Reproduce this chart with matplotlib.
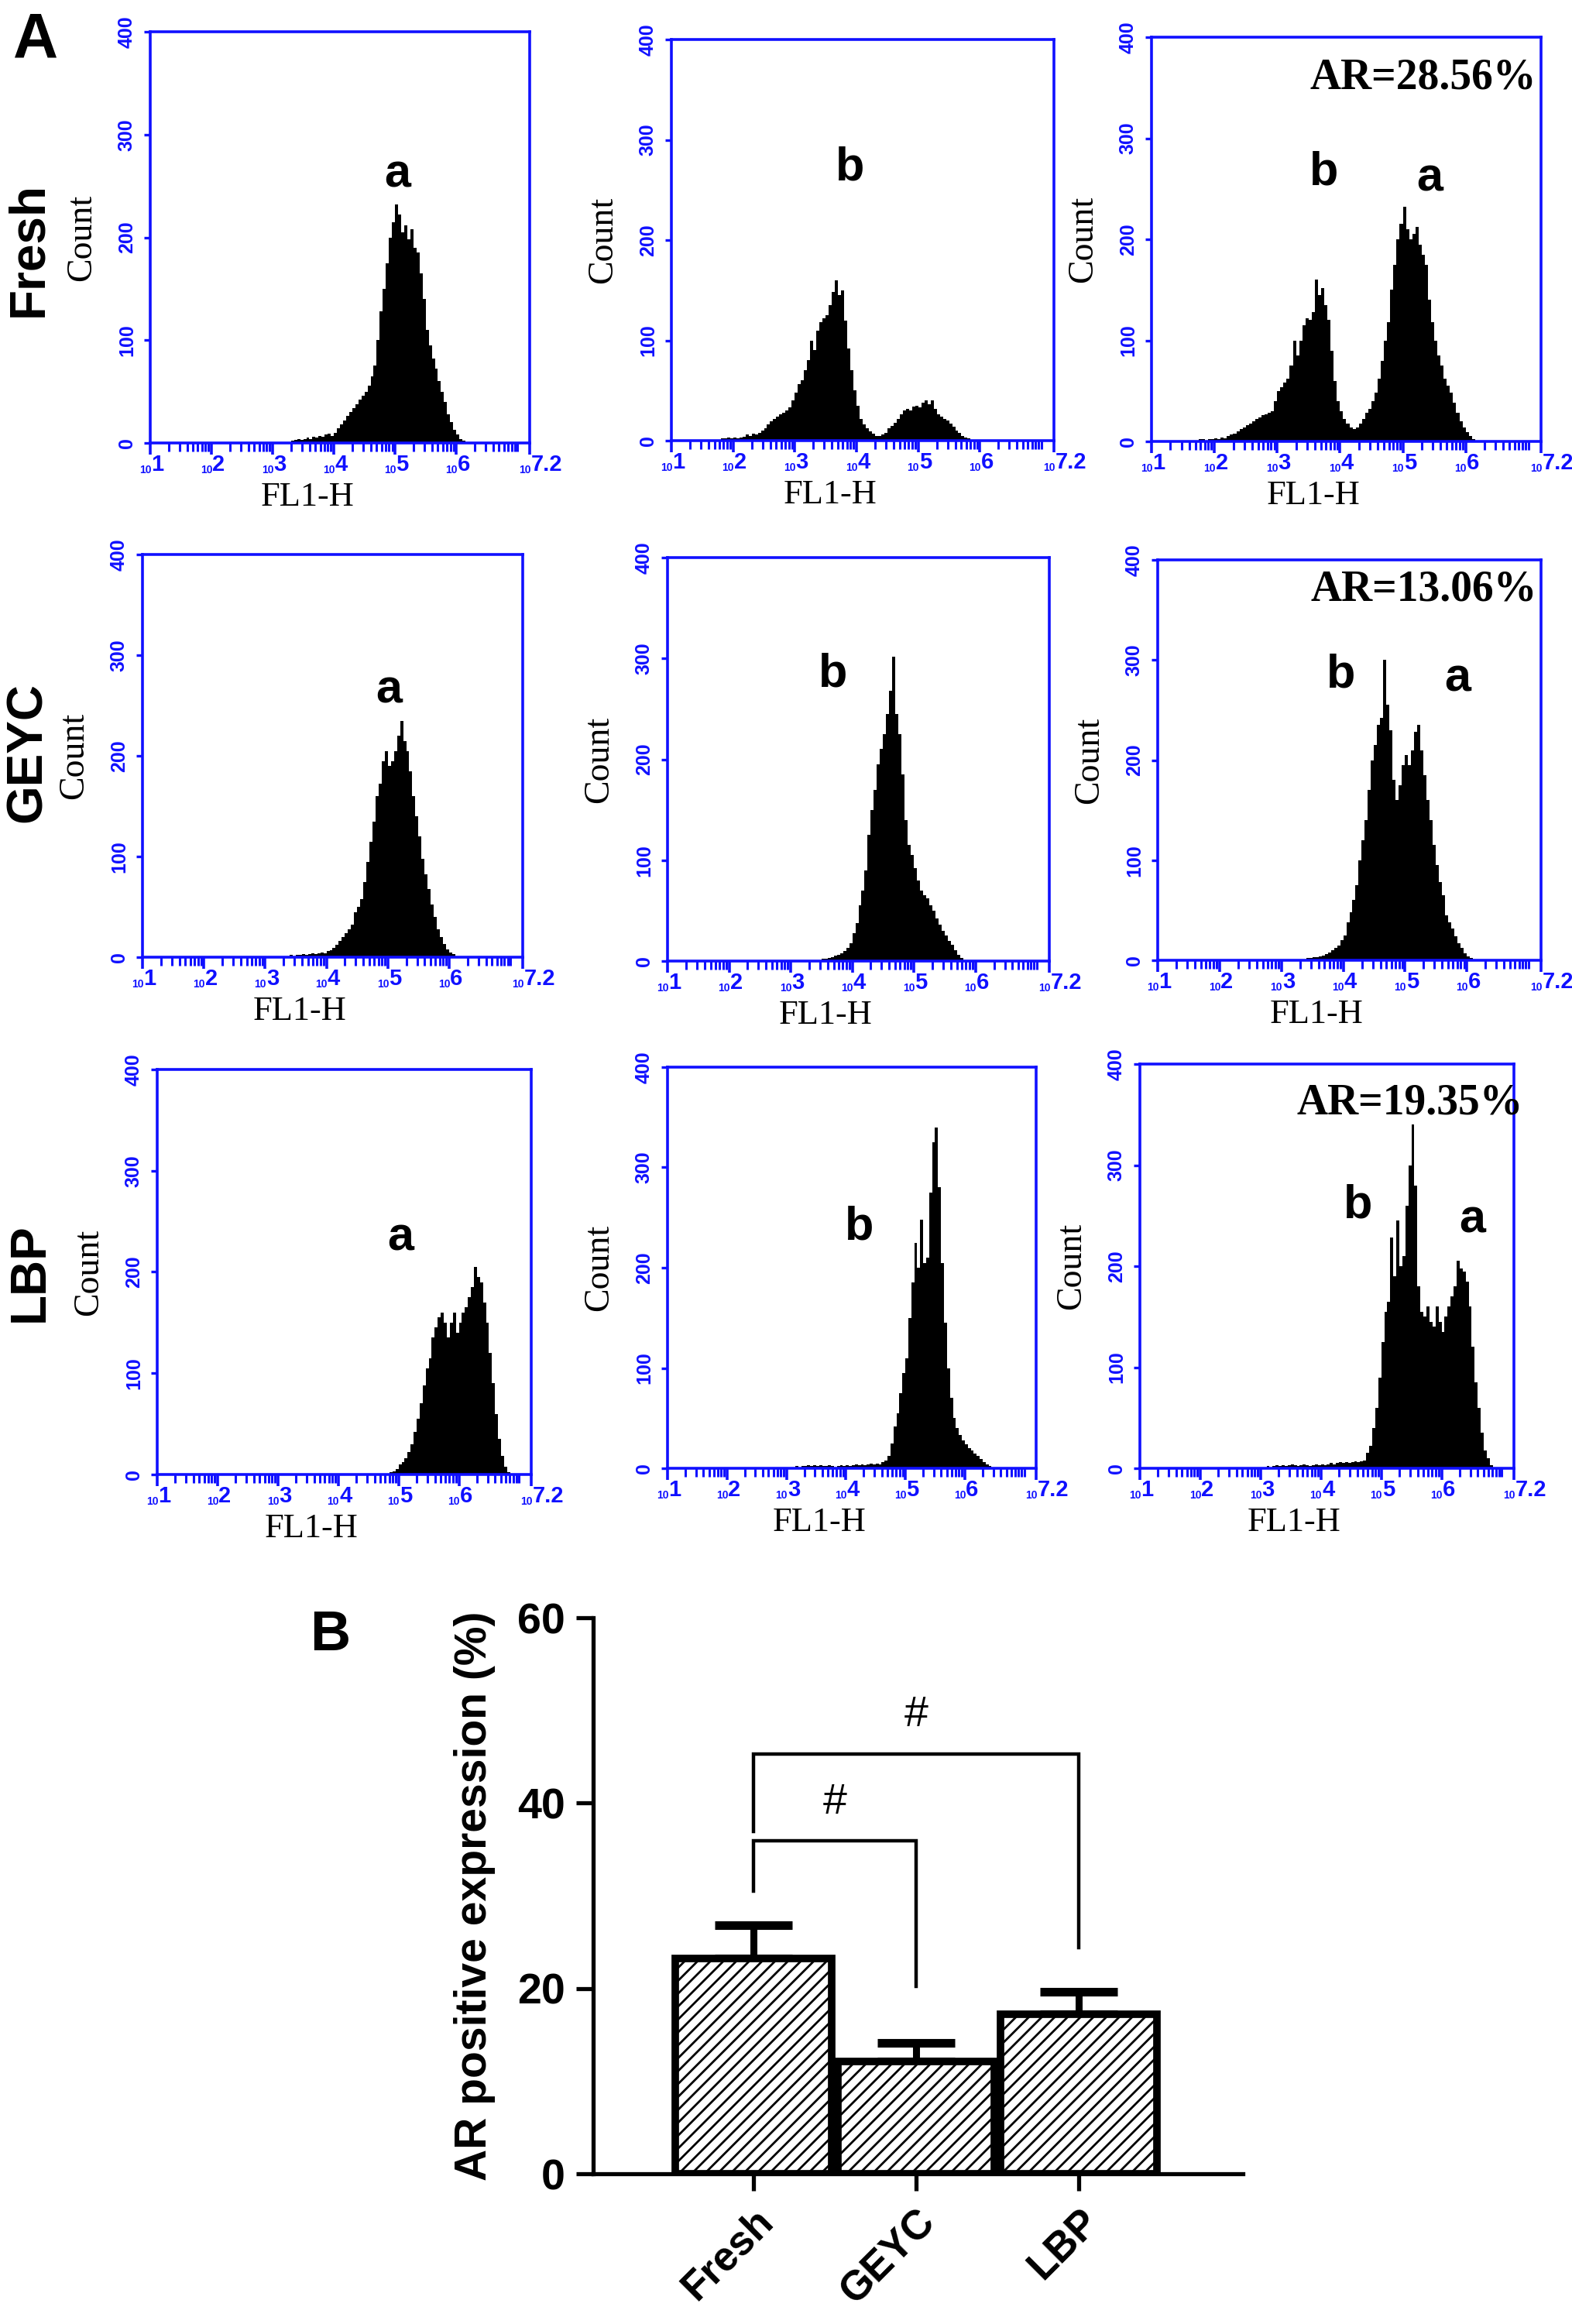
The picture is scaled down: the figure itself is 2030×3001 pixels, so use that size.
import numpy as np
import matplotlib
matplotlib.use("Agg")
import matplotlib.pyplot as plt

# ---------------- data (panel A: flow cytometry histograms, log10 FL1-H bins of 0.05 decade) ----------------
BIN = 0.05

fresh_a_start = 3.30
fresh_a = [2, 3, 4, 3, 4, 5, 4, 6, 5, 7, 6, 8, 9, 7, 10, 14, 18, 22, 26, 30, 34, 38, 42, 46, 50, 56,
           65, 75, 100, 128, 150, 175, 200, 215, 232, 222, 205, 212, 198, 208, 190, 185, 165, 140, 110,
           95, 82, 72, 60, 50, 40, 28, 20, 13, 8, 4, 2]

fresh_b_start = 1.80
fresh_b = [2, 2, 3, 2, 3, 2, 3, 4, 6, 5, 7, 6, 8, 10, 12, 16, 19, 22, 24, 26, 28, 30, 33, 40, 48, 56,
           60, 70, 80, 100, 90, 110, 118, 122, 125, 135, 148, 160, 145, 150, 120, 92, 70, 50, 35, 22,
           16, 12, 9, 7, 5, 5, 6, 8, 12, 15, 18, 22, 26, 30, 32, 30, 34, 35, 33, 38, 40, 36, 40, 32, 26,
           24, 22, 20, 17, 14, 10, 8, 5, 3, 2, 1]

fresh_ba_start = 1.70
fresh_ba = [1, 2, 2, 1, 2, 2, 3, 2, 4, 3, 5, 7, 8, 10, 12, 14, 16, 18, 20, 22, 24, 26, 27, 28, 30, 40,
            50, 54, 58, 62, 75, 100, 85, 100, 115, 122, 120, 128, 160, 145, 152, 135, 120, 90, 60, 40,
            30, 22, 18, 14, 12, 14, 18, 22, 28, 32, 40, 48, 62, 80, 100, 118, 150, 175, 200, 215, 232,
            210, 200, 205, 212, 195, 185, 175, 140, 118, 100, 85, 75, 62, 55, 48, 38, 28, 20, 14, 9, 5, 2]

geyc_a_start = 3.35
geyc_a = [1, 2, 1, 2, 2, 3, 2, 3, 4, 3, 4, 5, 4, 6, 7, 9, 12, 16, 20, 24, 28, 32, 45, 50, 58, 75, 95,
          115, 135, 160, 172, 195, 205, 190, 195, 205, 220, 235, 215, 205, 185, 160, 140, 120, 98, 82,
          68, 52, 40, 28, 20, 13, 8, 5, 3, 1]

geyc_b_start = 3.45
geyc_b = [1, 2, 2, 3, 4, 5, 6, 8, 10, 13, 18, 28, 38, 55, 70, 90, 125, 150, 170, 195, 210, 225, 245,
          268, 302, 245, 225, 185, 140, 115, 105, 92, 80, 70, 65, 62, 55, 50, 42, 36, 30, 25, 20, 16,
          11, 6, 3, 1]

geyc_ba_start = 3.35
geyc_ba = [1, 2, 2, 3, 3, 4, 5, 6, 8, 10, 12, 15, 20, 25, 38, 48, 60, 75, 100, 120, 140, 170, 200, 215,
           235, 242, 300, 255, 230, 180, 160, 175, 195, 205, 195, 210, 228, 235, 210, 185, 160, 140,
           115, 95, 78, 65, 45, 38, 32, 24, 17, 12, 7, 4, 2, 1]

lbp_a_start = 4.80
lbp_a = [1, 2, 3, 5, 10, 12, 16, 22, 30, 42, 55, 70, 88, 105, 115, 135, 145, 155, 160, 150, 135, 150,
         160, 140, 150, 160, 165, 175, 185, 205, 195, 190, 170, 150, 120, 90, 60, 35, 18, 8, 2]

lbp_b_start = 3.05
lbp_b = [1, 1, 2, 1, 2, 2, 3, 2, 3, 2, 3, 2, 2, 3, 2, 1, 2, 3, 2, 3, 2, 3, 4, 3, 4, 3, 4, 5, 4, 5, 4, 6,
         8, 12, 25, 42, 55, 75, 95, 110, 150, 185, 225, 200, 248, 205, 210, 275, 325, 340, 280, 205,
         145, 100, 70, 50, 40, 33, 28, 24, 20, 18, 15, 12, 9, 6, 4, 2, 1]

lbp_ba_start = 3.05
lbp_ba = [1, 2, 1, 2, 3, 2, 3, 2, 3, 4, 3, 2, 3, 4, 3, 2, 3, 4, 3, 4, 3, 4, 5, 4, 5, 6, 5, 6, 5, 6, 7,
          6, 7, 8, 15, 22, 40, 60, 90, 125, 155, 165, 228, 190, 245, 200, 210, 260, 300, 340, 280, 180,
          155, 150, 160, 145, 140, 160, 145, 135, 150, 160, 170, 180, 205, 198, 195, 185, 160, 120, 85,
          60, 35, 18, 10, 3]

ar_texts = ["AR=28.56%", "AR=13.06%", "AR=19.35%"]
row_names = ["Fresh", "GEYC", "LBP"]
x_tick_exps = ["1", "2", "3", "4", "5", "6", "7.2"]
x_tick_vals = [1, 2, 3, 4, 5, 6, 7.2]
y_ticks_hist = [0, 100, 200, 300, 400]

# peak labels (text, log10 x, count y)
peak_labels = [
    [("a", 5.04, 261)],
    [("b", 3.89, 272)],
    [("b", 3.75, 266), ("a", 5.43, 260)],
    [("a", 5.02, 265)],
    [("b", 3.69, 284)],
    [("b", 3.96, 285), ("a", 5.85, 281)],
    [("a", 5.03, 233)],
    [("b", 4.23, 240)],
    [("b", 4.62, 260), ("a", 6.51, 245)],
]
ar_pos = [(7.13, 360), (7.13, 370), (7.35, 361)]

# ---------------- data (panel B) ----------------
groups = ["Fresh", "GEYC", "LBP"]
means = [23.2, 12.1, 17.2]
errs = [3.6, 2.0, 2.4]
# brackets: (i, j, top y, left-leg bottom, right-leg bottom, '#' y)
brackets = [(0, 1, 35.9, 30.5, 20.2, 40.0), (0, 2, 45.3, 36.9, 24.4, 49.5)]

# ---------------- figure ----------------
W, H = 2031, 3001
fig = plt.figure(figsize=(W / 100, H / 100), dpi=100)
BLUE = "#1010ff"
SANS = "Liberation Sans"
SERIF = "Liberation Serif"

# axes boxes in pixel coords (left, right, top, bottom)
boxes = [
    (194, 684, 41, 572), (867, 1361, 51, 569), (1487, 1990, 48, 570),
    (184, 675, 716, 1236), (862, 1355, 720, 1241), (1495, 1990, 723, 1240),
    (203, 686, 1381, 1904), (862, 1338, 1378, 1896), (1472, 1955, 1374, 1896),
]
hists = [(fresh_a_start, fresh_a), (fresh_b_start, fresh_b), (fresh_ba_start, fresh_ba),
         (geyc_a_start, geyc_a), (geyc_b_start, geyc_b), (geyc_ba_start, geyc_ba),
         (lbp_a_start, lbp_a), (lbp_b_start, lbp_b), (lbp_ba_start, lbp_ba)]

minor_ticks = [d + np.log10(k) for d in range(1, 7) for k in range(2, 10)] + [7.0]

for idx, ((l, r, t, b), (start, counts)) in enumerate(zip(boxes, hists)):
    ax = fig.add_axes([l / W, 1 - b / H, (r - l) / W, (b - t) / H])
    counts = np.asarray(counts, dtype=float)
    edges = start + BIN * np.arange(len(counts) + 1)
    ax.stairs(counts, edges, fill=True, color="black", linewidth=0)
    ax.set_xlim(1, 7.2)
    ax.set_ylim(0, 400)
    for s in ax.spines.values():
        s.set_color(BLUE)
        s.set_linewidth(2.6)
    ax.set_yticks(y_ticks_hist)
    ax.set_yticklabels([str(v) for v in y_ticks_hist], rotation=90, va="center",
                       fontsize=18, fontweight="bold", color=BLUE, family=SANS)
    ax.tick_params(axis="y", direction="out", length=6, width=2.4, color=BLUE, pad=7)
    ax.set_xticks(x_tick_vals)
    ax.set_xticklabels([])
    ax.set_xticks(minor_ticks, minor=True)
    ax.tick_params(axis="x", which="major", direction="out", length=11, width=2.6, color=BLUE)
    ax.tick_params(axis="x", which="minor", direction="out", length=8, width=2.2, color=BLUE)
    for v, e in zip(x_tick_vals, x_tick_exps):
        ax.annotate("10", xy=(v, 0), xycoords=("data", "axes fraction"), xytext=(1, -28),
                    textcoords="offset points", ha="right", va="baseline", fontsize=10,
                    fontweight="bold", color=BLUE, family=SANS, annotation_clip=False)
        ax.annotate(e, xy=(v, 0), xycoords=("data", "axes fraction"), xytext=(1, -26),
                    textcoords="offset points", ha="left", va="baseline", fontsize=21,
                    fontweight="bold", color=BLUE, family=SANS, annotation_clip=False)
    cx = (l + r) / 2 - 42
    fig.text(cx / W, 1 - (b + 70) / H, "FL1-H", ha="center", va="center",
             fontsize=32, family=SERIF)
    fig.text((l - 88) / W, 1 - ((t + b) / 2) / H, "Count", ha="center", va="center",
             rotation=90, fontsize=33, family=SERIF)
    for txt, lx, ly in peak_labels[idx]:
        ax.text(lx, ly, txt, ha="center", va="center", fontsize=44, fontweight="bold",
                family=SANS, clip_on=False)
    if idx % 3 == 2:
        k = idx // 3
        ax.text(ar_pos[k][0], ar_pos[k][1], ar_texts[k], ha="right", va="center",
                fontsize=40, fontweight="bold", family=SERIF, clip_on=False)

# row labels and panel letters
row_centers = [(37, 322), (36, 971), (39, 1643)]
for name, (x, y) in zip(row_names, row_centers):
    fig.text(x / W, 1 - y / H, name, rotation=90, ha="center", va="center",
             fontsize=46, fontweight="bold", family=SANS)
fig.text(46 / W, 1 - 53 / H, "A", ha="center", va="center", fontsize=58,
         fontweight="bold", family=SANS)
fig.text(426 / W, 1 - 2112 / H, "B", ha="center", va="center", fontsize=52,
         fontweight="bold", family=SANS)

# ---------------- panel B ----------------
plt.rcParams["hatch.linewidth"] = 2.0
axb = fig.add_axes([766 / W, 1 - 2807 / H, 839 / W, 718 / H])
x = np.arange(len(groups))
axb.bar(x, means, width=0.96, color="white", edgecolor="black", linewidth=7,
        hatch="//", zorder=2)
axb.errorbar(x, means, yerr=[np.zeros(len(errs)), errs], fmt="none", ecolor="black",
             elinewidth=6.5, capsize=36, capthick=8, zorder=1)
axb.set_xlim(-0.986, 3.01)
axb.set_ylim(0, 60)
axb.spines["top"].set_visible(False)
axb.spines["right"].set_visible(False)
axb.spines["left"].set_linewidth(3.8)
axb.spines["bottom"].set_linewidth(3.8)
axb.set_yticks([0, 20, 40, 60])
axb.set_yticklabels(["0", "20", "40", "60"], fontsize=40, fontweight="bold", family=SANS)
axb.set_xticks(x)
axb.set_xticklabels(groups, rotation=45, ha="right", rotation_mode="anchor",
                    fontsize=38, fontweight="bold", family=SANS)
axb.tick_params(axis="both", direction="out", length=16, width=3.8, pad=10)
axb.set_ylabel("AR positive expression (%)", fontsize=41, fontweight="bold", family=SANS,
               labelpad=20)
for i, j, ytop, yl, yr, yh in brackets:
    axb.plot([i, i, j, j], [yl, ytop, ytop, yr], color="black", linewidth=3.2, clip_on=False,
             solid_joinstyle="miter")
    axb.text((i + j) / 2, yh, "#", ha="center", va="center", fontsize=40, family=SANS)

fig.savefig("out.png", dpi=100)
